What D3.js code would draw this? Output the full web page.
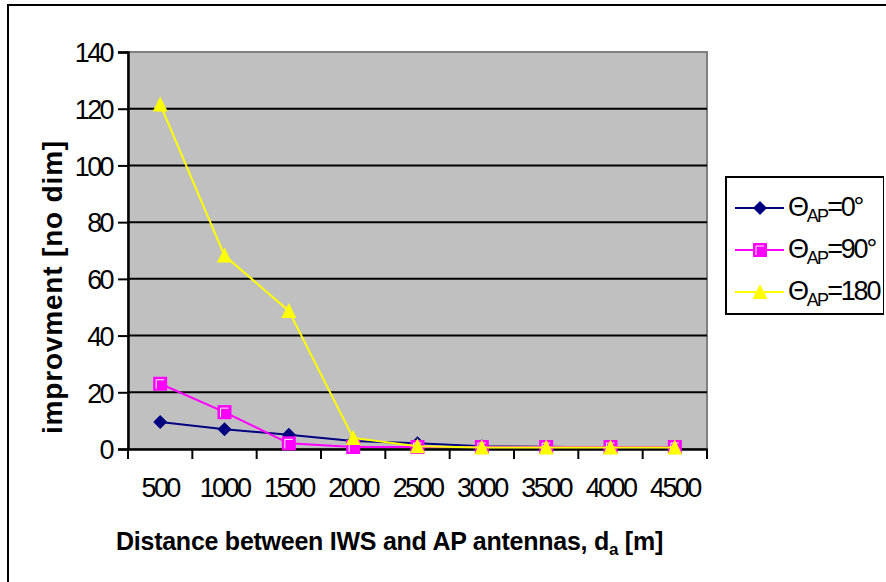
<!DOCTYPE html>
<html><head><meta charset="utf-8">
<script src="https://cdn.jsdelivr.net/npm/d3@7/dist/d3.min.js"></script>
<style>body{margin:0;background:#fff}svg{display:block;font-family:"Liberation Sans",Arial,sans-serif}</style>
</head><body>
<svg id="c" width="886" height="582"></svg>
<script>
const categories = ["500","1000","1500","2000","2500","3000","3500","4000","4500"];
const yTicks = [0,20,40,60,80,100,120,140];
const theta0 = [9.5, 7, 5, 2.8, 2, 1, 0.8, 0.5, 0.5];
const theta90 = [23, 13, 2, 0.7, 0.7, 0.7, 0.7, 0.7, 0.7];
const theta180 = [121.5, 68.2, 48.7, 3.9, 1, 0.5, 0.5, 0.5, 0.5];
const seriesNames = ["0°", "90°", "180"];

const FONT = "Liberation Sans, Arial, sans-serif";
const svg = d3.select("#c");
const m = {l:128, t:52, r:707, b:449};
const x = d3.scaleBand().domain(categories).range([m.l, m.r]);
const y = d3.scaleLinear().domain([0,140]).range([m.b, m.t]);

// outer frame
svg.append("rect").attr("x",8).attr("y",5).attr("width",900).attr("height",600)
  .attr("fill","#fff").attr("stroke","#000").attr("stroke-width",2);

// plot area
svg.append("rect").attr("x",m.l).attr("y",m.t).attr("width",m.r-m.l).attr("height",m.b-m.t)
  .attr("fill","#c0c0c0").attr("stroke","#808080").attr("stroke-width",2);

// gridlines
svg.append("g").selectAll("line").data(yTicks.filter(d=>d>0 && d<140)).join("line")
  .attr("x1",m.l).attr("x2",m.r).attr("y1",d=>y(d)).attr("y2",d=>y(d))
  .attr("stroke","#000").attr("stroke-width",2);

// y axis
const ya = svg.append("g").attr("transform",`translate(${m.l},0)`)
  .call(d3.axisLeft(y).tickValues(yTicks).tickSize(10).tickPadding(6));
ya.attr("font-size",null).attr("font-family",null);
ya.select(".domain").attr("stroke","#000").attr("stroke-width",2.5);
ya.selectAll(".tick line").attr("stroke","#000").attr("stroke-width",2);
ya.selectAll("text").style("font-size","27px").attr("fill","#000").attr("letter-spacing",-2.6)
  .attr("dy","0.36em").style("font-family",FONT);

// x axis
const xa = svg.append("g").attr("transform",`translate(0,${m.b})`)
  .call(d3.axisBottom(x).tickSize(0).tickPadding(29));
xa.attr("font-size",null).attr("font-family",null);
xa.select(".domain").attr("stroke","#000").attr("stroke-width",2.5);
xa.selectAll("text").style("font-size","27px").attr("fill","#000").attr("letter-spacing",-2.6)
  .style("font-family",FONT);
// tick marks at band boundaries
const bounds = categories.map(c=>x(c)).concat([m.r]);
svg.append("g").selectAll("line").data(bounds).join("line")
  .attr("x1",d=>d).attr("x2",d=>d).attr("y1",m.b).attr("y2",m.b+10)
  .attr("stroke","#000").attr("stroke-width",2);

// axis titles
const xt = svg.append("text").attr("x",116).attr("y",550)
  .style("font-size","25px").attr("font-weight","bold");
xt.append("tspan").text("Distance between IWS and AP antennas, d");
xt.append("tspan").style("font-size","17px").attr("dy",5).text("a");
xt.append("tspan").attr("dy",-5).text(" [m]");
(function(){
  const w = xt.node().getComputedTextLength();
  const n = xt.text().length;
  xt.attr("letter-spacing", (547 - w)/n);
})();

const yt = svg.append("text").attr("transform","translate(62,287) rotate(-90)").attr("text-anchor","middle")
  .style("font-size","28px").attr("font-weight","bold")
  .text("improvment [no dim]");
(function(){
  const w = yt.node().getComputedTextLength();
  const n = yt.text().length;
  yt.attr("letter-spacing", (294 - w)/n);
})();

const cx = d => x(d) + x.bandwidth()/2;
const series = [
  {vals: theta0, color:"#000080", marker:"diamond"},
  {vals: theta90, color:"#ff00ff", marker:"square"},
  {vals: theta180, color:"#ffff00", marker:"triangle"}
];
const line = d3.line().x(d=>cx(d.c)).y(d=>y(d.v));

function drawMarker(g, type, color){
  if(type==="diamond"){
    g.append("path").attr("d","M0,-7L7,0L0,7L-7,0Z").attr("fill",color);
  } else if(type==="square"){
    g.append("rect").attr("x",-7).attr("y",-7).attr("width",14).attr("height",14).attr("fill",color);
    g.append("path").attr("d","M-4,5V-4H4").attr("fill","none").attr("stroke","#fff").attr("stroke-width",1);
  } else {
    g.append("path").attr("d","M0,-8L7.5,7L-7.5,7Z").attr("fill",color);
  }
}

series.forEach(s=>{
  const data = categories.map((c,i)=>({c, v:s.vals[i]}));
  svg.append("path").datum(data).attr("d",line).attr("fill","none")
    .attr("stroke",s.color).attr("stroke-width",2);
  data.forEach(d=>{
    const g = svg.append("g").attr("transform",`translate(${cx(d.c)},${y(d.v)})`);
    drawMarker(g, s.marker, s.color);
  });
});

// legend
svg.append("clipPath").attr("id","lc").append("rect").attr("x",0).attr("y",0).attr("width",884).attr("height",582);
const leg = svg.append("g").attr("clip-path","url(#lc)");
leg.append("rect").attr("x",726).attr("y",177).attr("width",158).attr("height",137)
  .attr("fill","#fff").attr("stroke","#000").attr("stroke-width",2);
const rows = [208, 250, 292];
series.forEach((s,i)=>{
  const yy = rows[i];
  leg.append("line").attr("x1",735).attr("x2",784).attr("y1",yy).attr("y2",yy)
    .attr("stroke",s.color).attr("stroke-width",2);
  const g = leg.append("g").attr("transform",`translate(760,${yy})`);
  drawMarker(g, s.marker, s.color);
  const t = leg.append("text").attr("x",788).attr("y",yy+8).style("font-size","27px").attr("letter-spacing",-2.2);
  t.append("tspan").text("Θ");
  t.append("tspan").style("font-size","18px").attr("dy",6).attr("letter-spacing",-1.8).text("AP");
  t.append("tspan").attr("dy",-6).text("=" + seriesNames[i]);
});
</script>
</body></html>
